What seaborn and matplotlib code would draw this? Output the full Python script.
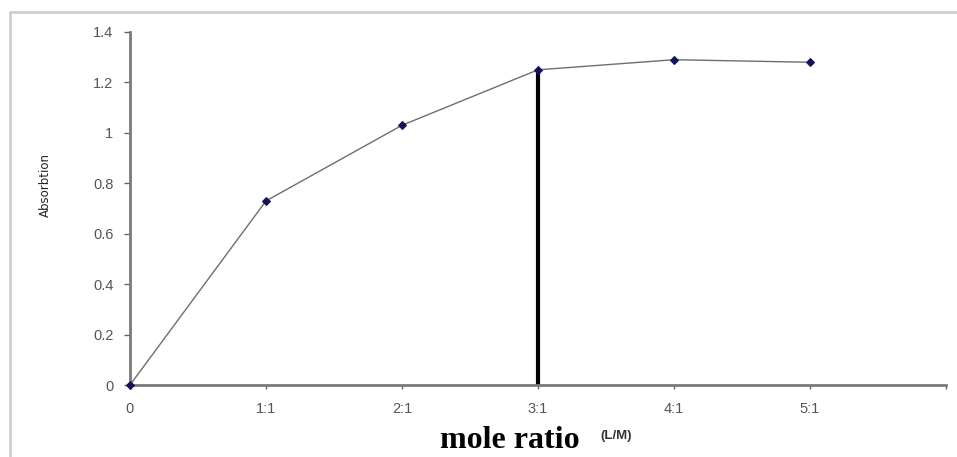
import matplotlib
matplotlib.use("Agg")
import matplotlib.pyplot as plt
import seaborn as sns
import pandas as pd
from matplotlib.lines import Line2D

sns.set_theme(style="white")
plt.rcParams["font.family"] = ["Liberation Sans", "DejaVu Sans"]

# data
ratio_pos = [0, 1, 2, 3, 4, 5]
ratio_labels = ["0", "1:1", "2:1", "3:1", "4:1", "5:1", ""]
absorbtion = [0.0, 0.73, 1.03, 1.25, 1.29, 1.28]
y_ticks = [0, 0.2, 0.4, 0.6, 0.8, 1, 1.2, 1.4]
y_tick_labels = ["0", "0.2", "0.4", "0.6", "0.8", "1", "1.2", "1.4"]
break_idx = 3  # stoichiometric point, marked by a vertical line

df = pd.DataFrame({"ratio": ratio_pos, "abs": absorbtion})

fig = plt.figure(figsize=(9.57, 4.57), dpi=100)
ax = fig.add_axes([0.1358, 0.1575, 0.8527, 0.7725])

sns.lineplot(data=df, x="ratio", y="abs", ax=ax, color="#6e6e6e", linewidth=1.0,
             marker="D", markersize=4.5, markerfacecolor="#14145a",
             markeredgecolor="#14145a", clip_on=False, zorder=3)

ax.vlines(ratio_pos[break_idx], 0, absorbtion[break_idx], color="black",
          linewidth=3, zorder=1)

ax.set_xlim(0, 6)
ax.set_ylim(0, 1.4)
ax.set_xticks(list(range(7)))
ax.set_xticklabels(ratio_labels)
ax.set_yticks(y_ticks)
ax.set_yticklabels(y_tick_labels)
ax.tick_params(axis="both", labelsize=10.5, colors="#666666", labelcolor="#555555")
ax.tick_params(axis="y", length=4, width=1, direction="out", left=True, pad=8)
ax.tick_params(axis="x", length=3, width=1, direction="out", bottom=True, pad=9)

for side in ["top", "right"]:
    ax.spines[side].set_visible(False)
for side in ["left", "bottom"]:
    ax.spines[side].set_color("#7a7a7a")
    ax.spines[side].set_linewidth(2)

ax.set_xlabel("")
ax.set_ylabel("")
ax.grid(False)

fig.text(0.047, 0.595, "Absorbtion", rotation=90, ha="center", va="center",
         fontsize=8.5, color="#222222", family=["Liberation Sans Narrow", "DejaVu Sans"])
fig.text(0.533, 0.037, "mole ratio", ha="center", va="center", fontsize=23,
         fontweight="bold", color="black", family=["Liberation Serif", "DejaVu Serif"])
fig.text(0.627, 0.046, "(L/M)", ha="left", va="center", fontsize=9.5,
         fontweight="bold", color="#333333")

# light frame on the top and left edges
fig.add_artist(Line2D([0.0105, 1.0], [0.974, 0.974], transform=fig.transFigure,
                      color="#cfcfcf", linewidth=2))
fig.add_artist(Line2D([0.0105, 0.0105], [0.0, 0.974], transform=fig.transFigure,
                      color="#cfcfcf", linewidth=2))

fig.savefig("out.png", dpi=100)
